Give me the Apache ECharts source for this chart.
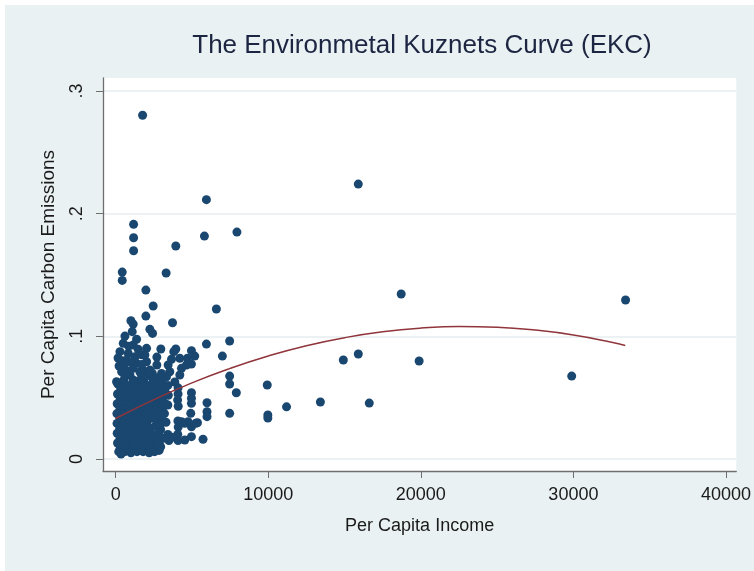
<!DOCTYPE html>
<html>
<head>
<meta charset="utf-8">
<title>EKC</title>
<script src="https://cdn.jsdelivr.net/npm/echarts@6.0.0/dist/echarts.min.js"></script>
<style>
  html, body { margin: 0; padding: 0; background: #fff; }
  #chart { width: 754px; height: 571px; }
</style>
</head>
<body>
<div id="chart"></div>
<script>
// axis ticks
const xTicks = [0, 10000, 20000, 30000, 40000]
const yTicks = [0, 0.1, 0.2, 0.3]

// scattered high / far points  [income, emissions]
const outerPoints = [
  [1765, 0.2802], [5948, 0.2114], [1176, 0.1913], [1176, 0.1804], [1176, 0.1698],
  [5817, 0.1817], [7948, 0.1850], [3941, 0.1736], [431, 0.1524], [431, 0.1456],
  [3307, 0.1516], [1980, 0.1377], [6601, 0.1223],
  [15902, 0.2241], [18713, 0.1345], [33419, 0.1296], [29889, 0.0676], [19889, 0.0799],
  [15902, 0.0856], [14922, 0.0807], [16621, 0.0456], [13418, 0.0465]
]

// middle band of the cluster
const upperCluster = [
  [2458, 0.1247], [1980, 0.1165], [1000, 0.1127], [1150, 0.1100], [3726, 0.1111],
  [2242, 0.1057], [2418, 0.1024], [608, 0.1002], [1085, 0.1038], [497, 0.0943],
  [1150, 0.0929], [1373, 0.0976], [1477, 0.0894], [2026, 0.0902], [2961, 0.0897],
  [3941, 0.0897], [3810, 0.0875], [281, 0.0875], [5948, 0.0937], [7471, 0.0962],
  [4967, 0.0883], [5183, 0.0839], [4706, 0.0821], [4967, 0.0774], [6994, 0.0839],
  [7471, 0.0676], [7471, 0.0611], [7908, 0.0540], [9935, 0.0603], [11200, 0.0425],
  [7471, 0.0372], [9974, 0.0359], [9974, 0.0334], [4967, 0.0540], [4967, 0.0495],
  [4967, 0.0454], [5987, 0.0459], [5987, 0.0385], [5987, 0.0345], [4922, 0.0372],
  [4745, 0.0304], [5360, 0.0296], [4967, 0.0263], [4967, 0.0182], [4529, 0.0155],
  [5726, 0.0161], [4529, 0.0291], [5248, 0.0291],
  [824, 0.0861], [719, 0.0807], [542, 0.0766], [392, 0.0711], [542, 0.0644],
  [1261, 0.0834], [1373, 0.0780], [1150, 0.0739], [1915, 0.0848], [2026, 0.0793],
  [1804, 0.0725], [2131, 0.0685], [3660, 0.0813], [3438, 0.0766], [3549, 0.0711],
  [3333, 0.0671], [4203, 0.0821], [4314, 0.0739], [4203, 0.0685], [2242, 0.0725],
  [2458, 0.0644], [3007, 0.0698], [3007, 0.0630], [60, 0.0630], [1150, 0.0644],
  [1588, 0.0644], [4641, 0.0766], [157, 0.0823], [222, 0.0758], [935, 0.0685],
  [1588, 0.0709], [2699, 0.0766], [2699, 0.0831], [3876, 0.0628], [3222, 0.0562],
  [750, 0.0720], [1000, 0.0790], [1700, 0.0770], [2400, 0.0700], [600, 0.0680],
  [1900, 0.0660], [2800, 0.0660], [850, 0.0920], [1700, 0.0850], [400, 0.0800]
]

// dense low-income core
const denseCore = [
  [150, 0.061], [520, 0.062], [900, 0.060], [1300, 0.061], [1700, 0.062], [2100, 0.060], [2500, 0.061], [2850, 0.062], [3150, 0.060],
  [330, 0.057], [720, 0.056], [1100, 0.057], [1500, 0.058], [1900, 0.056], [2300, 0.057], [2700, 0.056], [3050, 0.057],
  [120, 0.053], [500, 0.052], [880, 0.053], [1280, 0.054], [1680, 0.052], [2080, 0.053], [2480, 0.054], [2880, 0.052], [3200, 0.053],
  [300, 0.049], [700, 0.048], [1080, 0.049], [1480, 0.050], [1880, 0.048], [2280, 0.049], [2680, 0.048], [3050, 0.049],
  [100, 0.045], [480, 0.044], [860, 0.045], [1260, 0.046], [1660, 0.044], [2060, 0.045], [2460, 0.046], [2860, 0.044], [3250, 0.045],
  [290, 0.041], [680, 0.040], [1070, 0.041], [1470, 0.042], [1870, 0.040], [2270, 0.041], [2670, 0.040], [3060, 0.041],
  [80, 0.037], [470, 0.036], [850, 0.037], [1250, 0.038], [1650, 0.036], [2050, 0.037], [2450, 0.038], [2850, 0.036], [3200, 0.037],
  [280, 0.033], [660, 0.032], [1050, 0.033], [1450, 0.034], [1850, 0.032], [2250, 0.033], [2650, 0.032], [3000, 0.033],
  [90, 0.029], [460, 0.028], [840, 0.029], [1240, 0.030], [1640, 0.028], [2040, 0.029], [2900, 0.028],
  [270, 0.025], [650, 0.024], [1040, 0.025], [1440, 0.026], [1840, 0.024], [2950, 0.024],
  [100, 0.021], [470, 0.020], [850, 0.021], [1250, 0.022], [1650, 0.020], [2050, 0.021], [2450, 0.020], [2800, 0.021],
  [290, 0.017], [680, 0.016], [1070, 0.017], [1470, 0.018], [1870, 0.016], [2270, 0.017], [2650, 0.016],
  [120, 0.013], [500, 0.012], [880, 0.013], [1280, 0.014], [1680, 0.012], [2080, 0.013], [2450, 0.012], [2750, 0.013],
  [300, 0.009], [700, 0.008], [1100, 0.009], [1500, 0.009], [1900, 0.008], [2300, 0.009], [2650, 0.008], [2950, 0.010],
  [200, 0.006], [600, 0.006], [1000, 0.005], [1400, 0.006], [1800, 0.006], [2200, 0.005], [2550, 0.006], [2850, 0.007],
  [4090, 0.058], [4090, 0.053], [4060, 0.048], [4100, 0.043], [4080, 0.031], [4100, 0.026], [4070, 0.020], [4090, 0.015],
  [3420, 0.060], [3450, 0.052], [3420, 0.044], [3420, 0.020], [3490, 0.015],
  [3726, 0.0177], [2850, 0.0128], [4314, 0.0304],
  [2250, 0.025], [2600, 0.027], [1250, 0.010], [350, 0.004], [3150, 0.017], [3300, 0.030]
]

// fitted quadratic curve
const fitIncome = [0, 2500, 5000, 7500, 10000, 12500, 15000, 17500, 20000, 22500, 25000, 27500, 30000, 32500, 33400]
const fitEmission = [0.033, 0.0484, 0.0621, 0.0739, 0.0840, 0.0924, 0.0989, 0.1037, 0.1067, 0.1080, 0.1074, 0.1051, 0.1011, 0.0952, 0.0926]

const font = 'Liberation Sans, Arial, sans-serif'
const axisColor = '#6e6e6e'
const dotColor = '#1a476f'

const chart = echarts.init(document.getElementById('chart'))

const option = {
  animation: false,
  backgroundColor: '#eaf1f3',
  textStyle: { fontFamily: font },
  graphic: [
    // thin white margin top/left like the screenshot
    { type: 'rect', left: 0, top: 0, shape: { width: 754, height: 5 }, style: { fill: '#fff' } },
    { type: 'rect', left: 0, top: 0, shape: { width: 5, height: 571 }, style: { fill: '#fff' } }
  ],
  title: {
    text: 'The Environmetal Kuznets Curve (EKC)',
    left: 422,
    top: 33,
    padding: 0,
    textAlign: 'center',
    textStyle: { fontFamily: font, fontSize: 26, fontWeight: 'normal', color: '#1c2541' }
  },
  grid: {
    left: 103, right: 16, top: 78, bottom: 100,
    show: true, backgroundColor: '#fff', borderWidth: 0
  },
  xAxis: {
    type: 'value',
    min: -830,
    max: 40673,
    name: 'Per Capita Income',
    nameLocation: 'middle',
    nameGap: 46,
    nameTextStyle: { fontFamily: font, fontSize: 18, color: '#1a1a1a' },
    axisLine: { onZero: false, lineStyle: { color: axisColor, width: 1.3 } },
    axisTick: { customValues: xTicks, length: 7, lineStyle: { color: axisColor } },
    axisLabel: {
      customValues: xTicks,
      margin: 15,
      fontSize: 18,
      color: '#1a1a1a',
      fontFamily: font,
      formatter: v => String(v)
    },
    splitLine: { show: false }
  },
  yAxis: {
    type: 'value',
    min: -0.00978,
    max: 0.3106,
    name: 'Per Capita Carbon Emissions',
    nameLocation: 'middle',
    nameGap: 45,
    nameTextStyle: { fontFamily: font, fontSize: 19, color: '#1a1a1a' },
    axisLine: { show: true, onZero: false, lineStyle: { color: axisColor, width: 1.3 } },
    axisTick: { show: true, customValues: yTicks, length: 7, lineStyle: { color: axisColor } },
    axisLabel: {
      customValues: yTicks,
      rotate: 90,
      margin: 17,
      fontSize: 18,
      color: '#1a1a1a',
      fontFamily: font,
      formatter: v => (v === 0 ? '0' : String(+v.toFixed(1)).replace(/^0/, ''))
    },
    splitLine: { show: true, lineStyle: { color: '#e6eef1', width: 1.5 } }
  },
  series: [
    {
      type: 'scatter',
      symbol: 'circle',
      symbolSize: 9,
      itemStyle: { color: dotColor, opacity: 1 },
      data: outerPoints.concat(upperCluster, denseCore)
    },
    {
      type: 'line',
      smooth: true,
      showSymbol: false,
      lineStyle: { color: '#90353b', width: 1.5 },
      data: fitIncome.map((x, i) => [x, fitEmission[i]])
    }
  ]
}

chart.setOption(option)
</script>
</body>
</html>
